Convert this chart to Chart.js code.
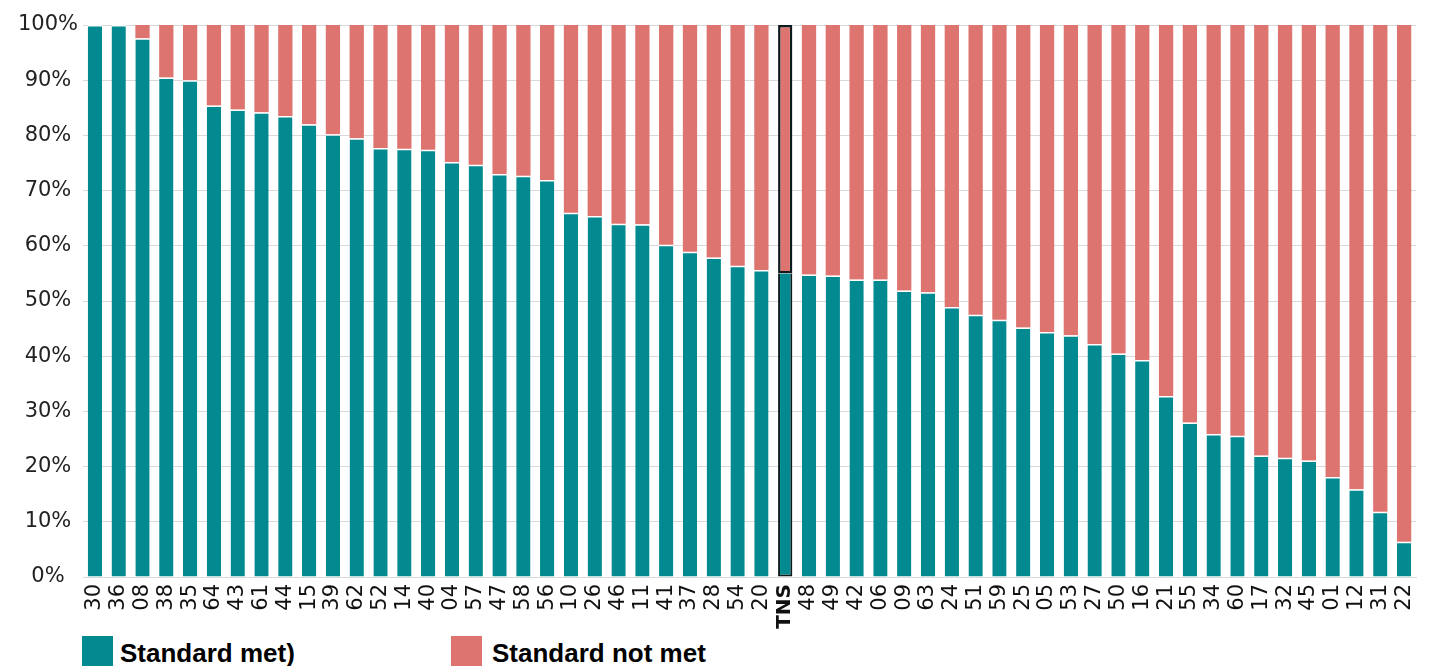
<!DOCTYPE html>
<html>
<head>
<meta charset="utf-8">
<script src="https://cdn.jsdelivr.net/npm/chart.js@4/dist/chart.umd.min.js"></script>
<style>
  body { margin: 0; background: #fff; overflow: hidden; }
  #wrap { position: relative; width: 1430px; height: 630px; }
  .legend { position: absolute; top: 636px; height: 40px; font-family: 'Liberation Sans', Arial, sans-serif; font-weight: bold; font-size: 26px; color: #000; }
  .legend .sw { position: absolute; left: 0; top: 0; width: 31px; height: 40px; }
  .legend span.txt { position: absolute; top: 2px; white-space: nowrap; }
</style>
</head>
<body>
<div id="wrap"><canvas id="chart"></canvas></div>
<div class="legend" style="left:82px"><div class="sw" style="background:#028a90"></div><span class="txt" style="left:38px">Standard met)</span></div>
<div class="legend" style="left:451px"><div class="sw" style="background:#dd7470"></div><span class="txt" style="left:41px">Standard not met</span></div>
<script>
const labels = ['30','36','08','38','35','64','43','61','44','15','39','62','52','14','40','04','57','47','58','56',
  '10','26','46','11','41','37','28','54','20','TNS','48','49','42','06','09','63','24','51','59','25',
  '05','53','27','50','16','21','55','34','60','17','32','45','01','12','31','22'];

const met = [100, 100, 97.6, 90.5, 90.0, 85.4, 84.7, 84.2, 83.5, 82.0, 80.2, 79.5, 77.7, 77.6, 77.4, 75.2, 74.7, 73.0, 72.7, 71.9,
  66.0, 65.4, 64.0, 63.9, 60.2, 58.9, 57.9, 56.4, 55.6, 55.0, 54.8, 54.6, 53.9, 53.9, 51.9, 51.6, 48.9, 47.5, 46.6, 45.2,
  44.4, 43.8, 42.2, 40.5, 39.3, 32.8, 28.0, 25.9, 25.6, 22.0, 21.6, 21.1, 18.1, 15.9, 11.8, 6.4];

const notMet = [0, 0, 2.4, 9.5, 10.0, 14.6, 15.3, 15.8, 16.5, 18.0, 19.8, 20.5, 22.3, 22.4, 22.6, 24.8, 25.3, 27.0, 27.3, 28.1,
  34.0, 34.6, 36.0, 36.1, 39.8, 41.1, 42.1, 43.6, 44.4, 45.0, 45.2, 45.4, 46.1, 46.1, 48.1, 48.4, 51.1, 52.5, 53.4, 54.8,
  55.6, 56.2, 57.8, 59.5, 60.7, 67.2, 72.0, 74.1, 74.4, 78.0, 78.4, 78.9, 81.9, 84.1, 88.2, 93.6];

const yTicks = [0, 10, 20, 30, 40, 50, 60, 70, 80, 90, 100];
const highlight = 'TNS';

const teal = '#028a90';
const red = '#dd7470';
const gridColor = '#d9d9d9';
const tickFont = "'DejaVu Sans', sans-serif";

const isHi = ctx => labels[ctx.dataIndex] === highlight;

new Chart(document.getElementById('chart'), {
  type: 'bar',
  data: {
    labels,
    datasets: [
      {
        label: 'Standard met)',
        data: met,
        backgroundColor: teal,
        borderColor: ctx => isHi(ctx) ? '#0d1b1e' : '#ffffff',
        borderWidth: ctx => isHi(ctx) ? { top: 0, left: 2, right: 2, bottom: 2 } : { top: 1.5, left: 0, right: 0, bottom: 0 },
        borderSkipped: false,
        barPercentage: 0.6,
        categoryPercentage: 1.0,
      },
      {
        label: 'Standard not met',
        data: notMet,
        backgroundColor: red,
        borderColor: '#0d1b1e',
        borderWidth: ctx => isHi(ctx) ? 2.5 : 0,
        borderSkipped: false,
        barPercentage: 0.6,
        categoryPercentage: 1.0,
      },
    ],
  },
  options: {
    responsive: true,
    maintainAspectRatio: false,
    animation: false,
    layout: { padding: { left: 0, right: 14, top: 25, bottom: 0 } },
    plugins: { legend: { display: false }, tooltip: { enabled: false } },
    scales: {
      x: {
        stacked: true,
        grid: { display: false, drawTicks: false },
        border: { color: gridColor },
        ticks: {
          autoSkip: false,
          minRotation: 90,
          maxRotation: 90,
          padding: 7,
          color: '#111',
          font: ctx => (ctx.tick && ctx.tick.label === highlight)
            ? { family: tickFont, size: 20, weight: 'bold' }
            : { family: tickFont, size: 21 },
        },
        afterFit: s => { s.height = 53; s.paddingLeft = 0; s.paddingRight = 0; },
      },
      y: {
        stacked: true,
        min: 0,
        max: 100,
        afterBuildTicks: s => { s.ticks = yTicks.map(v => ({ value: v })); },
        grid: { color: gridColor, drawTicks: false },
        border: { display: false },
        ticks: {
          crossAlign: 'center',
          padding: 5,
          color: '#222',
          font: { family: tickFont, size: 21 },
          callback: v => v + '%',
        },
        afterFit: s => { s.width = 83; },
      },
    },
  },
});
</script>
</body>
</html>
